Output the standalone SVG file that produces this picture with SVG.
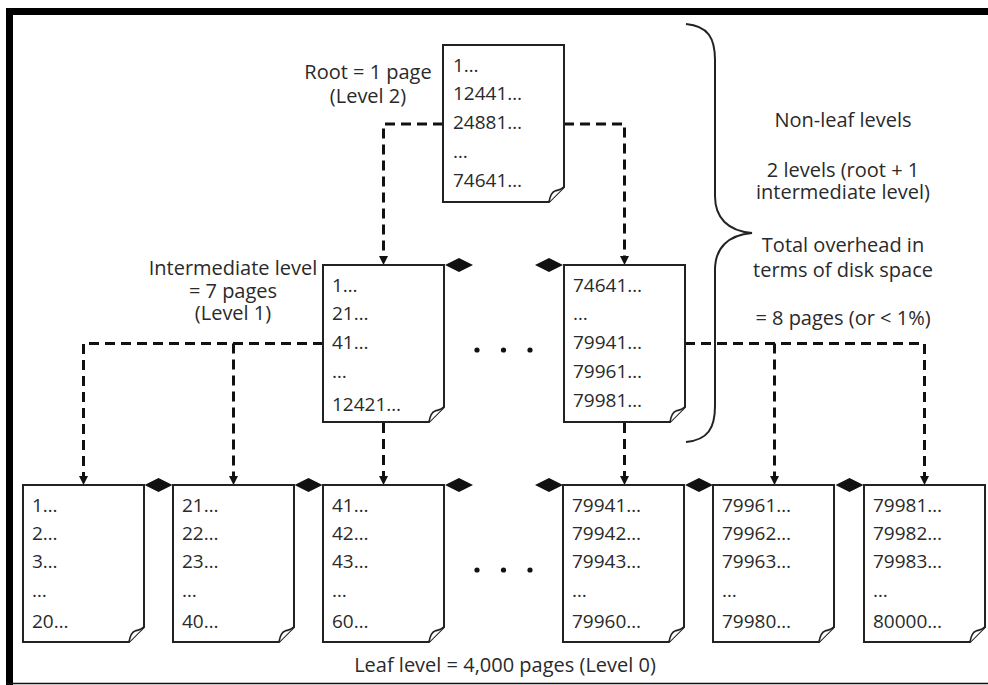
<svg xmlns="http://www.w3.org/2000/svg" width="988" height="685" viewBox="0 0 988 685">
  <style>
    .page { fill: #fff; stroke: #222; stroke-width: 2; stroke-linejoin: miter; }
    .curl { fill: #fff; stroke: #222; stroke-width: 1.6; stroke-linejoin: round; }
    .txt { font-family: "Open Sans", "Noto Sans", sans-serif; font-size: 19px; fill: #2a2a2a; }
    .lbl { font-family: "Open Sans", "Noto Sans", sans-serif; font-size: 20px; fill: #2a2a2a; text-anchor: middle; }
    .dash { fill: none; stroke: #111; stroke-width: 3; stroke-dasharray: 10 6; }
    .head { fill: #111; }
    .link { fill: #111; }
    .dot { fill: #111; }
  </style>
  <defs>
    <!-- arrowhead pointing down, tip at origin -->
    <path id="ah" d="M0,0 L-4.5,-9 L4.5,-9 Z"/>
    <!-- sibling link diamond centred at origin -->
    <path id="dm" d="M-14,0 L0,-7 L14,0 L0,7 Z"/>
    <!-- a page 121 x 157 with folded bottom-right corner -->
    <g id="pg">
      <path class="page" d="M0,0 H121 V142 L106,157 H0 Z"/>
      <path class="curl" d="M106,157 C107,151 109,147 112,146 C115,145 118,145 121,142"/>
    </g>
  </defs>

  <rect width="988" height="685" fill="#fff"/>
  <!-- frame -->
  <path d="M9.5,685 V11.5 H988" fill="none" stroke="#000" stroke-width="7"/>
  <line x1="6" y1="683.5" x2="988" y2="683.5" stroke="#111" stroke-width="1.5"/>

  <!-- connectors -->
  <g id="connectors">
    <path class="dash" d="M443,124 H383.5 V256"/>
    <path class="dash" d="M564,124 H624.5 V256"/>
    <path class="dash" d="M323,343.5 H83.5 V476"/>
    <path class="dash" d="M233.5,343.5 V476"/>
    <path class="dash" d="M383.5,423 V476"/>
    <path class="dash" d="M624.5,423 V476"/>
    <path class="dash" d="M685,343.5 H924.5 V476"/>
    <path class="dash" d="M774.5,343.5 V476"/>
    <use href="#ah" class="head" x="383.5" y="265"/>
    <use href="#ah" class="head" x="624.5" y="265"/>
    <use href="#ah" class="head" x="83.5" y="485"/>
    <use href="#ah" class="head" x="233.5" y="485"/>
    <use href="#ah" class="head" x="383.5" y="485"/>
    <use href="#ah" class="head" x="624.5" y="485"/>
    <use href="#ah" class="head" x="774.5" y="485"/>
    <use href="#ah" class="head" x="924.5" y="485"/>
    <!-- sibling links -->
    <use href="#dm" class="link" x="459" y="265"/>
    <use href="#dm" class="link" x="549" y="265"/>
    <use href="#dm" class="link" x="158.5" y="485"/>
    <use href="#dm" class="link" x="308.5" y="485"/>
    <use href="#dm" class="link" x="459" y="485"/>
    <use href="#dm" class="link" x="549" y="485"/>
    <use href="#dm" class="link" x="699" y="485"/>
    <use href="#dm" class="link" x="849.5" y="485"/>
  </g>

  <!-- root -->
  <g id="root">
    <use href="#pg" x="443" y="45"/>
    <text class="txt" x="453" y="72">1…</text>
    <text class="txt" x="453" y="100">12441…</text>
    <text class="txt" x="453" y="129">24881…</text>
    <text class="txt" x="453" y="158">…</text>
    <text class="txt" x="453" y="187">74641…</text>
  </g>
  <g id="root-label">
    <text class="lbl" x="368" y="79">Root = 1 page</text>
    <text class="lbl" x="368" y="103">(Level 2)</text>
  </g>

  <!-- intermediate level -->
  <g id="int-1">
    <use href="#pg" x="323" y="265"/>
    <text class="txt" x="332" y="292">1…</text>
    <text class="txt" x="332" y="320">21…</text>
    <text class="txt" x="332" y="349">41…</text>
    <text class="txt" x="332" y="378">…</text>
    <text class="txt" x="332" y="411">12421…</text>
  </g>
  <g id="int-7">
    <use href="#pg" x="564" y="265"/>
    <text class="txt" x="573" y="292">74641…</text>
    <text class="txt" x="573" y="320">…</text>
    <text class="txt" x="573" y="349">79941…</text>
    <text class="txt" x="573" y="378">79961…</text>
    <text class="txt" x="573" y="407">79981…</text>
  </g>
  <g id="int-label">
    <text class="lbl" x="233" y="275">Intermediate level</text>
    <text class="lbl" x="233" y="298">= 7 pages</text>
    <text class="lbl" x="233" y="320">(Level 1)</text>
  </g>
  <g id="int-dots">
    <circle class="dot" cx="477" cy="350" r="2.6"/>
    <circle class="dot" cx="503.5" cy="350" r="2.6"/>
    <circle class="dot" cx="530" cy="350" r="2.6"/>
  </g>

  <!-- leaf level -->
  <g id="leaf-1">
    <use href="#pg" x="23" y="485"/>
    <text class="txt" x="32" y="512">1…</text>
    <text class="txt" x="32" y="540">2…</text>
    <text class="txt" x="32" y="568">3…</text>
    <text class="txt" x="32" y="597">…</text>
    <text class="txt" x="32" y="628">20…</text>
  </g>
  <g id="leaf-2">
    <use href="#pg" x="173" y="485"/>
    <text class="txt" x="182" y="512">21…</text>
    <text class="txt" x="182" y="540">22…</text>
    <text class="txt" x="182" y="568">23…</text>
    <text class="txt" x="182" y="597">…</text>
    <text class="txt" x="182" y="628">40…</text>
  </g>
  <g id="leaf-3">
    <use href="#pg" x="323" y="485"/>
    <text class="txt" x="332" y="512">41…</text>
    <text class="txt" x="332" y="540">42…</text>
    <text class="txt" x="332" y="568">43…</text>
    <text class="txt" x="332" y="597">…</text>
    <text class="txt" x="332" y="628">60…</text>
  </g>
  <g id="leaf-3998">
    <use href="#pg" x="563" y="485"/>
    <text class="txt" x="572" y="512">79941…</text>
    <text class="txt" x="572" y="540">79942…</text>
    <text class="txt" x="572" y="568">79943…</text>
    <text class="txt" x="572" y="597">…</text>
    <text class="txt" x="572" y="628">79960…</text>
  </g>
  <g id="leaf-3999">
    <use href="#pg" x="713" y="485"/>
    <text class="txt" x="722" y="512">79961…</text>
    <text class="txt" x="722" y="540">79962…</text>
    <text class="txt" x="722" y="568">79963…</text>
    <text class="txt" x="722" y="597">…</text>
    <text class="txt" x="722" y="628">79980…</text>
  </g>
  <g id="leaf-4000">
    <use href="#pg" x="864" y="485"/>
    <text class="txt" x="873" y="512">79981…</text>
    <text class="txt" x="873" y="540">79982…</text>
    <text class="txt" x="873" y="568">79983…</text>
    <text class="txt" x="873" y="597">…</text>
    <text class="txt" x="873" y="628">80000…</text>
  </g>
  <g id="leaf-dots">
    <circle class="dot" cx="477" cy="570" r="2.6"/>
    <circle class="dot" cx="503.5" cy="570" r="2.6"/>
    <circle class="dot" cx="530" cy="570" r="2.6"/>
  </g>
  <g id="leaf-label">
    <text class="lbl" x="505" y="672">Leaf level = 4,000 pages (Level 0)</text>
  </g>

  <!-- brace and summary -->
  <g id="summary">
    <path d="M686,24 C708,26 715,38 715,60 V196 C715,218 728,231 752,233 C728,235 715,248 715,270 V406 C715,428 708,440 686,442" fill="none" stroke="#222" stroke-width="2"/>
    <text class="lbl" x="843" y="127">Non-leaf levels</text>
    <text class="lbl" x="843" y="177">2 levels (root + 1</text>
    <text class="lbl" x="843" y="199">intermediate level)</text>
    <text class="lbl" x="843" y="252">Total overhead in</text>
    <text class="lbl" x="843" y="277">terms of disk space</text>
    <text class="lbl" x="843" y="325">= 8 pages (or &lt; 1%)</text>
  </g>
</svg>
